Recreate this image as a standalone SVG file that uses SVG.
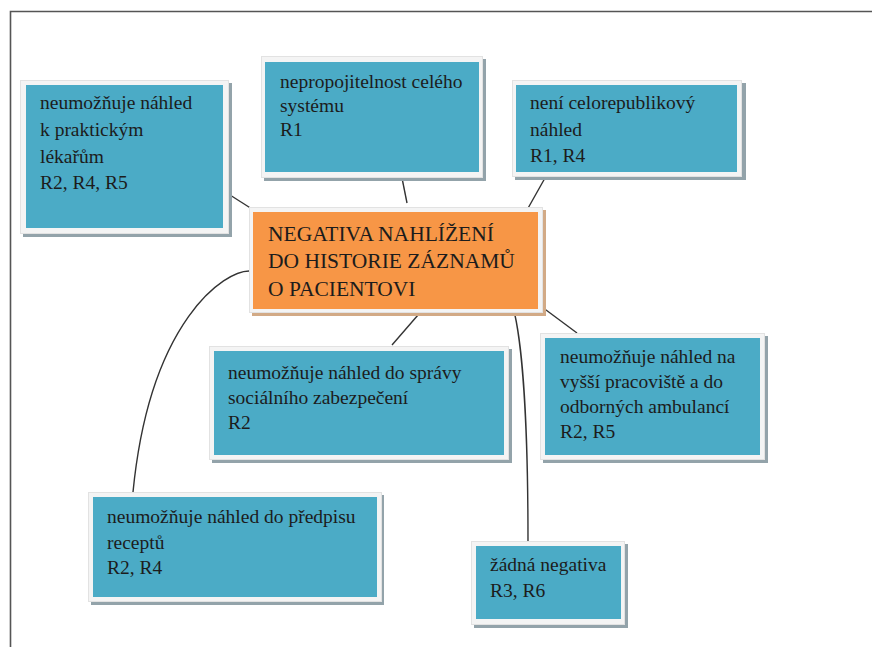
<svg xmlns="http://www.w3.org/2000/svg" width="872" height="647" viewBox="0 0 872 647">
  <style>
    .shadow { fill: #93a3aa; }
    .frame { fill: #f4f4f4; stroke: #e2e2e2; stroke-width: 1; }
    .teal { fill: #4babc6; }
    .orange { fill: #f79646; }
    .cshadow { fill: #d2aa86; }
    text { font-family: 'Liberation Serif', 'Times New Roman', 'DejaVu Serif', serif; fill: #1c1c1c; }
    .t { font-size: 19.5px; }
    .ct { font-size: 21.5px; }
    .link { fill: none; stroke: #333333; stroke-width: 1.4; }
  </style>

  <rect width="872" height="647" fill="#ffffff"/>
  <!-- page frame -->
  <path d="M10.5,647 V11.5 H872" fill="none" stroke="#555555" stroke-width="1.6"/>

  <g id="connectors">
    <line class="link" x1="230" y1="195" x2="252" y2="209"/>
    <line class="link" x1="402" y1="178" x2="407" y2="203"/>
    <line class="link" x1="545" y1="178" x2="527" y2="210"/>
    <line class="link" x1="418" y1="315" x2="392" y2="345"/>
    <line class="link" x1="542" y1="307" x2="577" y2="333"/>
    <path class="link" d="M250,271 C225,270 150,320 133,492"/>
    <path class="link" d="M513,307 C522,340 528,420 528,541"/>
  </g>

  <g id="n-lekari">
    <rect class="shadow" x="23" y="83" width="209" height="154"/>
    <rect class="frame" x="20.5" y="80.5" width="208" height="153"/>
    <rect class="teal" x="26" y="85" width="197" height="143"/>
    <text class="t" x="40" y="109">neumožňuje náhled</text>
    <text class="t" x="40" y="136">k praktickým</text>
    <text class="t" x="40" y="163">lékařům</text>
    <text class="t" x="40" y="189">R2, R4, R5</text>
  </g>

  <g id="n-system">
    <rect class="shadow" x="264" y="59" width="222" height="122"/>
    <rect class="frame" x="261.5" y="56.5" width="221" height="121"/>
    <rect class="teal" x="265" y="62" width="214" height="110"/>
    <text class="t" x="280" y="88">nepropojitelnost celého</text>
    <text class="t" x="280" y="112">systému</text>
    <text class="t" x="280" y="136">R1</text>
  </g>

  <g id="n-celorepublikovy">
    <rect class="shadow" x="515" y="83" width="231" height="97"/>
    <rect class="frame" x="512.5" y="80.5" width="229" height="96"/>
    <rect class="teal" x="516" y="85" width="221" height="87"/>
    <text class="t" x="530" y="109">není celorepublikový</text>
    <text class="t" x="530" y="136">náhled</text>
    <text class="t" x="530" y="162">R1, R4</text>
  </g>

  <g id="n-center">
    <rect class="cshadow" x="252" y="210" width="294" height="106"/>
    <rect class="frame" x="249.5" y="207.5" width="293" height="105"/>
    <rect class="orange" x="253" y="212" width="285" height="97"/>
    <text class="ct" x="268" y="241">NEGATIVA NAHLÍŽENÍ</text>
    <text class="ct" x="268" y="268">DO HISTORIE ZÁZNAMŮ</text>
    <text class="ct" x="268" y="296">O PACIENTOVI</text>
  </g>

  <g id="n-socialni">
    <rect class="shadow" x="212" y="349" width="300" height="114"/>
    <rect class="frame" x="209.5" y="346.5" width="299" height="113"/>
    <rect class="teal" x="214" y="351" width="290" height="104"/>
    <text class="t" x="228" y="379">neumožňuje náhled do správy</text>
    <text class="t" x="228" y="404">sociálního zabezpečení</text>
    <text class="t" x="228" y="429">R2</text>
  </g>

  <g id="n-ambulance">
    <rect class="shadow" x="543" y="336" width="225" height="127"/>
    <rect class="frame" x="540.5" y="333.5" width="224" height="126"/>
    <rect class="teal" x="545" y="338" width="215" height="117"/>
    <text class="t" x="560" y="363">neumožňuje náhled na</text>
    <text class="t" x="560" y="388">vyšší pracoviště a do</text>
    <text class="t" x="560" y="413">odborných ambulancí</text>
    <text class="t" x="560" y="438">R2, R5</text>
  </g>

  <g id="n-recepty">
    <rect class="shadow" x="91" y="495" width="293" height="110"/>
    <rect class="frame" x="88.5" y="492.5" width="293" height="109"/>
    <rect class="teal" x="93" y="497" width="284" height="100"/>
    <text class="t" x="107" y="523">neumožňuje náhled do předpisu</text>
    <text class="t" x="107" y="549">receptů</text>
    <text class="t" x="107" y="574">R2, R4</text>
  </g>

  <g id="n-zadna">
    <rect class="shadow" x="474" y="544" width="154" height="84"/>
    <rect class="frame" x="471.5" y="541.5" width="153" height="83"/>
    <rect class="teal" x="476" y="546" width="145" height="73"/>
    <text class="t" x="490" y="571">žádná negativa</text>
    <text class="t" x="490" y="597">R3, R6</text>
  </g>
</svg>
